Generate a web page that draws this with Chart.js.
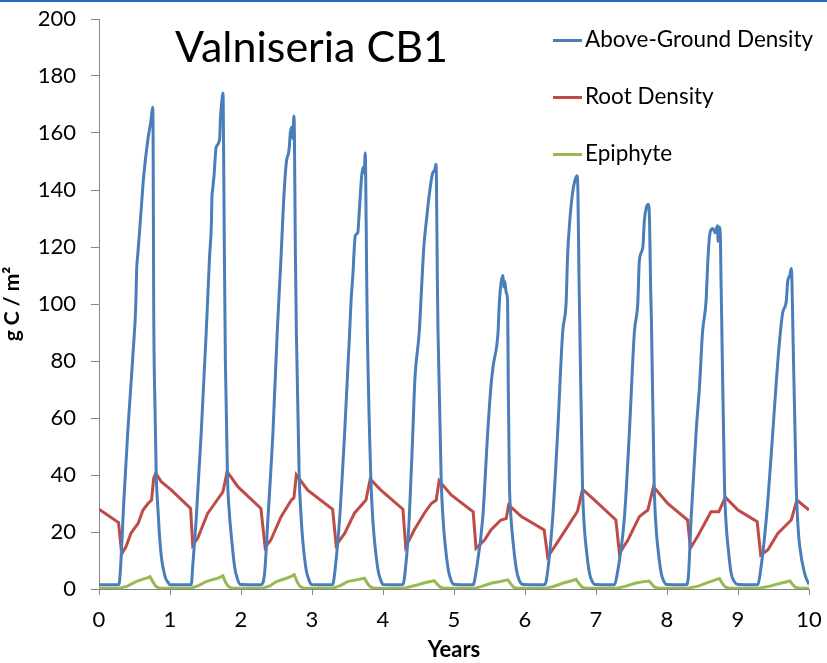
<!DOCTYPE html>
<html>
<head>
<meta charset="utf-8">
<title>Valniseria CB1</title>
<script src="https://cdn.jsdelivr.net/npm/chart.js@4.4.1/dist/chart.umd.min.js"></script>
<style>
  html, body { margin: 0; padding: 0; background: #fff; }
  #wrap { position: relative; width: 827px; height: 663px; }
  #faixa { position: absolute; left: 0; top: 0; width: 827px; height: 2px; background: #1d6fbe; }
</style>
</head>
<body>
<div id="wrap">
  <canvas id="grafico" width="827" height="663"></canvas>
  <div id="faixa"></div>
</div>
<script>
// Valores: [ano, g C / m²]
const tituloGrafico = "Valniseria CB1";
const nomesSeries = ["Above-Ground Density", "Root Density", "Epiphyte"];
const coresSeries = ["#4a7ebb", "#be4b48", "#98b954"];
const ticksX = [0, 1, 2, 3, 4, 5, 6, 7, 8, 9, 10];
const ticksY = [0, 20, 40, 60, 80, 100, 120, 140, 160, 180, 200];

const acimaDoSolo = [
  [0,1.5],[0.28,1.5],[0.30,6],[0.35,31],[0.405,55],[0.445,70],[0.48,83],[0.52,101],[0.53,112],[0.545,117],[0.585,130],[0.63,145],[0.69,158],[0.73,164],[0.755,169],[0.762,160],[0.77,101],[0.79,62],[0.805,41],[0.83,28],[0.85,19.5],[0.875,12],[0.90,7.8],[0.935,4],[0.97,2.4],[1.0,1.5],
  [1.30,1.5],[1.32,8],[1.37,25],[1.44,55],[1.51,90],[1.556,116],[1.585,130],[1.59,137],[1.60,140],[1.62,145],[1.65,155],[1.70,158],[1.71,165],[1.73,171],[1.745,174],[1.75,170],[1.765,120],[1.78,80],[1.81,39],[1.835,27],[1.86,19.5],[1.91,7.8],[1.95,3.5],[1.99,1.6],
  [2.28,1.5],[2.33,5],[2.38,25],[2.45,55],[2.51,90],[2.565,117],[2.60,136],[2.64,150],[2.67,153],[2.68,155],[2.695,160],[2.71,162],[2.73,158],[2.745,166],[2.752,160],[2.765,120],[2.78,90],[2.82,39],[2.845,26],[2.87,17],[2.92,6.5],[2.96,3],[2.99,1.6],
  [3.29,1.5],[3.33,8],[3.39,25],[3.46,55],[3.53,90],[3.55,101],[3.575,110],[3.61,124],[3.645,125],[3.66,130],[3.70,145],[3.72,148],[3.735,146],[3.75,153],[3.755,148],[3.77,110],[3.78,90],[3.83,38],[3.855,25],[3.88,17],[3.93,6.7],[3.97,3],[4.0,1.6],
  [4.28,1.5],[4.32,8],[4.37,25],[4.42,55],[4.45,74],[4.51,90],[4.54,104],[4.575,120],[4.61,129],[4.655,139],[4.70,146],[4.73,147],[4.745,149],[4.752,145],[4.765,110],[4.775,90],[4.82,38],[4.845,25],[4.87,17],[4.92,6.7],[4.96,3],[5.0,1.6],
  [5.27,1.5],[5.31,6],[5.405,25],[5.475,55],[5.52,71],[5.55,78],[5.62,90],[5.64,101],[5.69,110],[5.70,106],[5.715,108],[5.735,104],[5.755,101],[5.765,70],[5.78,38],[5.80,26],[5.83,17],[5.88,6.7],[5.92,3],[5.97,1.6],
  [6.27,1.5],[6.30,3],[6.39,25],[6.46,55],[6.53,90],[6.58,101],[6.60,117],[6.63,129],[6.67,139],[6.70,143],[6.73,145],[6.745,140],[6.76,110],[6.77,95],[6.81,36],[6.835,22],[6.86,14.8],[6.91,5.3],[6.95,2.5],[6.98,1.6],
  [7.26,1.5],[7.29,4],[7.40,25],[7.47,55],[7.54,90],[7.59,101],[7.61,115],[7.66,120],[7.68,129],[7.71,134],[7.74,135],[7.755,128],[7.77,105],[7.78,95],[7.82,36],[7.845,22],[7.87,14.8],[7.92,5.3],[7.96,2.5],[7.99,1.6],
  [8.27,1.5],[8.30,4],[8.34,25],[8.41,55],[8.46,72],[8.50,90],[8.55,101],[8.575,115],[8.60,124],[8.645,126.5],[8.68,125],[8.71,127.5],[8.72,122],[8.735,127],[8.75,125],[8.76,110],[8.77,95],[8.81,36],[8.835,22],[8.86,14.8],[8.90,6],[8.95,2.5],[9.0,1.6],
  [9.28,1.5],[9.31,5],[9.40,25],[9.49,55],[9.54,73],[9.585,87],[9.63,97],[9.68,101],[9.70,108],[9.73,110],[9.75,112.5],[9.76,108],[9.77,95],[9.82,36],[9.845,22],[9.87,14.8],[9.94,5.3],[10.0,1.6]
];

const raiz = [
  [0,28],[0.275,23.3],[0.32,12.3],[0.38,14.8],[0.45,19.6],[0.55,23],[0.62,27.7],[0.69,30],[0.74,31.2],[0.77,38.8],[0.80,40.6],[0.875,37.7],[1.02,34.7],[1.29,28.3],
  [1.32,15.4],[1.39,17.8],[1.53,26.5],[1.63,30],[1.745,34.1],[1.77,37],[1.805,41.2],[1.955,35.9],[2.28,28.3],
  [2.34,14.6],[2.42,17.2],[2.565,25.4],[2.71,31.2],[2.745,32],[2.78,40],[2.94,34.7],[3.29,28],
  [3.34,15.4],[3.46,19.5],[3.60,26.7],[3.76,31.2],[3.82,38.6],[3.97,34.7],[4.28,28],
  [4.32,14.8],[4.44,20.7],[4.58,26.5],[4.68,30],[4.75,31.2],[4.79,38],[4.96,33],[5.27,27.1],
  [5.31,14.3],[5.43,17.2],[5.52,20.7],[5.66,24.2],[5.735,24.7],[5.77,29.5],[5.95,25.4],[6.27,20.7],
  [6.32,11.3],[6.415,14.8],[6.60,21.9],[6.74,27.3],[6.81,35],[6.98,31.2],[7.28,24.2],
  [7.33,12.5],[7.45,17.2],[7.61,25.4],[7.73,27.7],[7.81,35.9],[8.01,30],[8.29,24.2],
  [8.33,14.3],[8.43,18.4],[8.62,27.1],[8.73,27.1],[8.82,32.2],[9.0,27.7],[9.27,23.6],
  [9.32,11.9],[9.42,13.7],[9.56,19.5],[9.75,24.2],[9.83,31.2],[10.0,27.7]
];

const epifita = [
  [0,0.3],[0.29,0.3],[0.40,1.0],[0.52,2.6],[0.60,3.3],[0.68,3.9],[0.72,4.3],[0.76,2.5],[0.80,0.9],[0.85,0.3],
  [1.30,0.3],[1.40,1.2],[1.51,2.6],[1.60,3.3],[1.68,3.8],[1.745,4.6],[1.78,2.5],[1.82,0.9],[1.87,0.3],
  [2.30,0.3],[2.40,1.0],[2.50,2.6],[2.62,3.6],[2.70,4.3],[2.75,5.0],[2.79,2.5],[2.83,0.9],[2.88,0.3],
  [3.30,0.3],[3.40,1.2],[3.50,2.6],[3.62,3.2],[3.74,3.8],[3.78,2.0],[3.82,0.8],[3.87,0.3],
  [4.30,0.3],[4.45,1.2],[4.60,2.3],[4.72,2.9],[4.76,1.8],[4.81,0.6],[4.86,0.3],
  [5.30,0.3],[5.40,1.0],[5.52,2.0],[5.65,2.6],[5.76,3.2],[5.80,1.8],[5.84,0.6],[5.88,0.3],
  [6.30,0.3],[6.40,0.9],[6.55,2.2],[6.65,2.8],[6.72,3.4],[6.76,2.0],[6.80,0.7],[6.85,0.3],
  [7.30,0.3],[7.42,1.0],[7.55,2.0],[7.65,2.5],[7.75,2.8],[7.79,1.6],[7.83,0.6],[7.88,0.3],
  [8.30,0.3],[8.45,1.1],[8.60,2.5],[8.74,3.7],[8.78,2.0],[8.82,0.7],[8.87,0.3],
  [9.30,0.3],[9.45,1.0],[9.60,2.0],[9.73,2.8],[9.77,1.6],[9.81,0.6],[9.86,0.3],[10,0.3]
];

const corEixo = "#868686";
const fonte = "Lato";

// Converte os pares [ano, valor] para o formato do Chart.js
function pontos(pares) {
  return pares.map(p => ({ x: p[0], y: p[1] }));
}

// Zera o espaço extra que o Chart.js reserva para os rótulos nas pontas
function semPaddingExtra(scale) {
  scale.paddingTop = 0;
  scale.paddingBottom = 0;
  scale.paddingLeft = 0;
  scale.paddingRight = 0;
}

// Desenha o título e a legenda dentro da área do gráfico
const pluginTextos = {
  id: "textos",
  afterDraw(chart) {
    const ctx = chart.ctx;
    ctx.save();
    ctx.fillStyle = "#000";
    ctx.font = "43px " + fonte;
    ctx.textBaseline = "alphabetic";
    ctx.textAlign = "left";
    ctx.fillText(tituloGrafico, 175, 62);

    ctx.font = "22.5px " + fonte;
    ctx.textBaseline = "middle";
    chart.data.datasets.forEach((ds, i) => {
      const y = 40.5 + i * 57;
      ctx.strokeStyle = ds.borderColor;
      ctx.lineWidth = 3;
      ctx.beginPath();
      ctx.moveTo(553, y);
      ctx.lineTo(582, y);
      ctx.stroke();
      ctx.fillText(ds.label, 585, y - 1);
    });
    ctx.restore();
  }
};

const series = [acimaDoSolo, raiz, epifita];

new Chart(document.getElementById("grafico"), {
  type: "line",
  data: {
    datasets: series.map((s, i) => ({
      label: nomesSeries[i],
      data: pontos(s),
      borderColor: coresSeries[i],
      backgroundColor: coresSeries[i],
      borderWidth: 3,
      pointRadius: 0,
      fill: false,
      cubicInterpolationMode: i === 0 ? "monotone" : "default",
      tension: 0
    }))
  },
  options: {
    responsive: false,
    animation: false,
    layout: { padding: { top: 19, right: 18, left: 0, bottom: 0 } },
    plugins: {
      legend: { display: false },
      tooltip: { enabled: false }
    },
    scales: {
      x: {
        type: "linear",
        min: 0,
        max: 10,
        afterBuildTicks: (scale) => { scale.ticks = ticksX.map(v => ({ value: v })); },
        afterFit: (scale) => { scale.height = 74; semPaddingExtra(scale); },
        ticks: { color: "#000", font: { family: fonte, size: 22 }, padding: 12, maxRotation: 0 },
        grid: { drawOnChartArea: false, drawTicks: true, tickLength: 6, color: corEixo },
        border: { color: corEixo, width: 1 },
        title: { display: true, text: "Years", color: "#000", font: { family: fonte, size: 22, weight: "bold" }, padding: 0 }
      },
      y: {
        min: 0,
        max: 200,
        afterBuildTicks: (scale) => { scale.ticks = ticksY.map(v => ({ value: v })); },
        afterFit: (scale) => { scale.width = 99; semPaddingExtra(scale); },
        ticks: { color: "#000", font: { family: fonte, size: 22 }, padding: 15 },
        grid: { drawOnChartArea: false, drawTicks: true, tickLength: 8, color: corEixo },
        border: { color: corEixo, width: 1 },
        title: { display: true, text: "g C / m²", color: "#000", font: { family: fonte, size: 21, weight: "bold" }, padding: { top: 0 } }
      }
    }
  },
  plugins: [pluginTextos]
});
</script>
</body>
</html>
